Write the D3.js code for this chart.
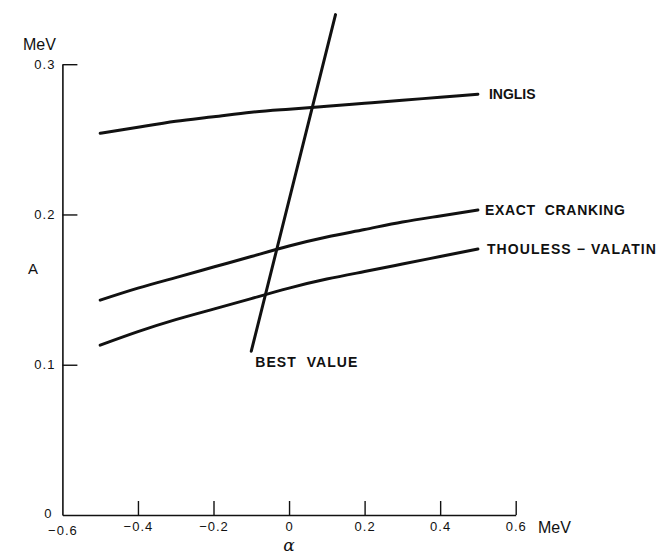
<!DOCTYPE html>
<html>
<head>
<meta charset="utf-8">
<script src="https://cdn.jsdelivr.net/npm/d3@7"></script>
<style>
  html, body { margin: 0; padding: 0; background: #fff; }
  svg { display: block; }
  .tick text { font-family: "Liberation Sans", Arial, sans-serif; font-size: 13px; letter-spacing: 1px; fill: #111; }
  .lbl { font-family: "Liberation Sans", Arial, sans-serif; font-weight: bold; font-size: 14px; fill: #111; }
</style>
</head>
<body>
<script>
// Pairing-strength parameter A versus alpha, for three approximations
const alpha = [-0.5, -0.4, -0.3, -0.2, -0.1, 0.0, 0.1, 0.2, 0.3, 0.4, 0.5];
const inglis = [0.254, 0.258, 0.262, 0.265, 0.268, 0.270, 0.272, 0.274, 0.276, 0.278, 0.280];
const exactCranking = [0.143, 0.151, 0.158, 0.165, 0.172, 0.179, 0.185, 0.190, 0.195, 0.199, 0.203];
const thoulessValatin = [0.113, 0.122, 0.130, 0.137, 0.144, 0.151, 0.157, 0.162, 0.167, 0.172, 0.177];

// "Best value" straight line
const bestAlpha = [-0.10, 0.123];
const bestA = [0.109, 0.333];

const xTicks = [-0.6, -0.4, -0.2, 0, 0.2, 0.4, 0.6];
const xTickLabels = ["\u22120.6", "\u22120.4", "\u22120.2", "0", "0.2", "0.4", "0.6"];
const yTicks = [0, 0.1, 0.2, 0.3];
const yTickLabels = ["0", "0.1", "0.2", "0.3"];

const W = 658, H = 556;
const svg = d3.select("body").append("svg").attr("width", W).attr("height", H);

const x = d3.scaleLinear().domain([-0.6, 0.6]).range([62.4, 515.7]);
const y = d3.scaleLinear().domain([0, 0.3]).range([515, 64.2]);

// Axes with inward ticks
const xAxis = d3.axisBottom(x).tickValues(xTicks)
  .tickFormat((d, i) => xTickLabels[i]).tickSizeInner(-14).tickSizeOuter(0).tickPadding(7);
const yAxis = d3.axisLeft(y).tickValues(yTicks)
  .tickFormat((d, i) => yTickLabels[i]).tickSizeInner(-15).tickSizeOuter(0).tickPadding(7);

const gx = svg.append("g").attr("transform", `translate(0,${y(0)})`).call(xAxis);
const gy = svg.append("g").attr("transform", `translate(${x(-0.6)},0)`).call(yAxis);
[gx, gy].forEach(g => {
  g.select(".domain").attr("stroke", "#111").attr("stroke-width", 1.6);
  g.selectAll(".tick line").attr("stroke", "#111").attr("stroke-width", 1.4);
});
// the corner ticks coincide with the axis lines
gx.selectAll(".tick").filter(d => d === -0.6).select("line").remove();
gy.selectAll(".tick").filter(d => d === 0).select("line").remove();
// y zero label sits a little lower-left of the corner
gy.selectAll(".tick").filter(d => d === 0).select("text").attr("x", -10).attr("dy", "0.2em");
gx.selectAll(".tick").filter(d => d === -0.6).select("text").attr("dy", "1.0em");

// Curves
const line = d3.line().x(d => x(d[0])).y(d => y(d[1])).curve(d3.curveNatural);
const series = [inglis, exactCranking, thoulessValatin];
series.forEach(vals => {
  svg.append("path")
    .datum(alpha.map((a, i) => [a, vals[i]]))
    .attr("d", line)
    .attr("fill", "none").attr("stroke", "#111")
    .attr("stroke-width", 3).attr("stroke-linecap", "round");
});
svg.append("path")
  .datum(bestAlpha.map((a, i) => [a, bestA[i]]))
  .attr("d", d3.line().x(d => x(d[0])).y(d => y(d[1])))
  .attr("fill", "none").attr("stroke", "#111")
  .attr("stroke-width", 3).attr("stroke-linecap", "round");

// Curve labels
const last = alpha.length - 1;
const labels = [
  { t: "INGLIS", xv: alpha[last], yv: inglis[last], dx: 11, len: null },
  { t: "EXACT  CRANKING", xv: alpha[last], yv: exactCranking[last], dx: 7, len: 140 },
  { t: "THOULESS \u2212 VALATIN", xv: alpha[last], yv: thoulessValatin[last], dx: 9, len: 169 },
  { t: "BEST  VALUE", xv: bestAlpha[0], yv: bestA[0], dx: 4, dy: 11, len: 102 }
];
labels.forEach(l => {
  const t = svg.append("text").attr("class", "lbl")
    .attr("x", x(l.xv) + l.dx)
    .attr("y", y(l.yv) + (l.dy || 0))
    .attr("dy", "0.36em")
    .attr("xml:space", "preserve")
    .style("white-space", "pre")
    .text(l.t);
  if (l.len) t.attr("textLength", l.len).attr("lengthAdjust", "spacing");
});

// Axis titles
const titleFont = '"Liberation Sans", Arial, sans-serif';
svg.append("text").attr("x", 538).attr("y", 533).attr("font-family", titleFont)
  .attr("font-size", 16).attr("fill", "#111").text("MeV");
svg.append("text").attr("x", 23).attr("y", 50).attr("font-family", titleFont)
  .attr("font-size", 16).attr("fill", "#111").text("MeV");
svg.append("text").attr("x", 33).attr("y", 274).attr("text-anchor", "middle").attr("font-family", titleFont)
  .attr("font-size", 15).attr("fill", "#111").text("A");
svg.append("text").attr("x", x(0)).attr("y", 551).attr("text-anchor", "middle")
  .attr("font-family", '"DejaVu Serif", serif').attr("font-style", "italic")
  .attr("font-size", 17).attr("fill", "#111").text("\u03b1");
</script>
</body>
</html>
